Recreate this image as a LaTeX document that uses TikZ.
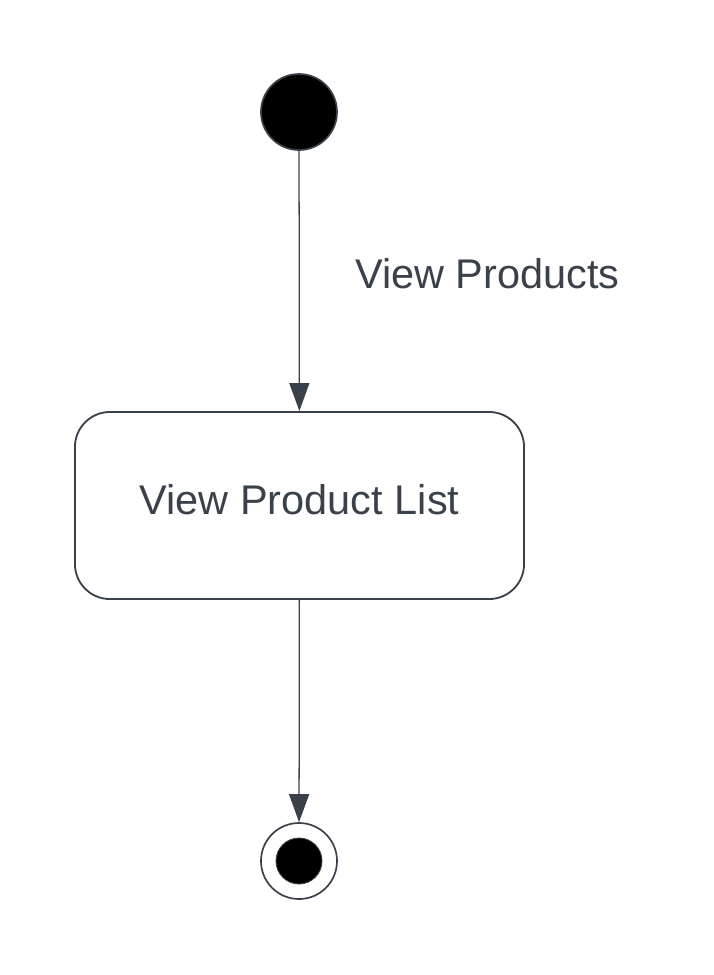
\documentclass[tikz,border=0pt]{standalone}
\usepackage{fontspec}
\setmainfont{Liberation Sans}
\usetikzlibrary{arrows.meta}
\definecolor{edge}{HTML}{3B414B}
\tikzset{
  initial/.style={circle, draw=edge, line width=1.2pt, fill=black, minimum size=1.9cm, inner sep=0pt},
  final/.style={circle, draw=edge, line width=1.2pt, fill=white, minimum size=1.9cm, inner sep=0pt},
  finaldot/.style={circle, fill=black, draw=edge, line width=0.6pt, minimum size=1.15cm, inner sep=0pt},
  activity/.style={rectangle, rounded corners=0.875cm, draw=edge, line width=1.3pt, minimum width=11.225cm, minimum height=4.675cm, text=edge, text depth=0.3cm, font=\fontsize{29.5}{34}\selectfont},
  trans/.style={edge, line width=0.9pt, -{Triangle[length=0.7cm,width=0.5cm]}},
  translabel/.style={text=edge, font=\fontsize{29.5}{34}\selectfont, inner sep=0pt}
}
\begin{document}
\begin{tikzpicture}[x=0.025cm, y=-0.025cm]
\useasboundingbox[fill=white] (0,0) rectangle (713,975);
%
\node[initial] (start) at (299,112) {};
\node[activity] (list) at (299.5,505.5) {View Product List};
\node[final] (stop) at (299,861) {};
\node[finaldot] (stopdot) at (stop) {};
%
\draw[trans] (start) -- (list);
\draw[trans] (list) -- (stop);
\node[translabel, anchor=west] (viewlbl) at (355,274) {View Products};
\end{tikzpicture}
\end{document}
